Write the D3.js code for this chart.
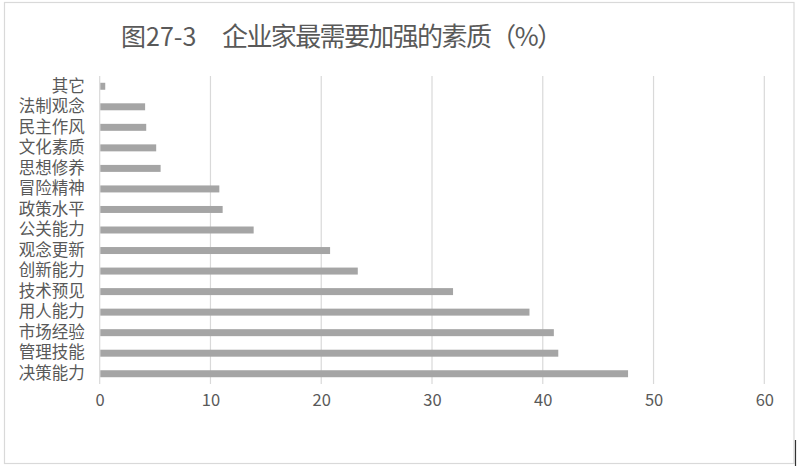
<html>
<head>
  <style>
    body { margin: 0; background: #fff; }
    text { font-family: "Noto Sans CJK SC", "Noto Sans", sans-serif; fill: #595959; }
  </style>
  <script src="https://d3js.org/d3.v7.min.js"></script>
</head>
<body>
  <svg></svg>
  <script type="text/javascript">
    // categories from top to bottom
    var categories = ["其它", "法制观念", "民主作风", "文化素质", "思想修养", "冒险精神", "政策水平", "公关能力",
      "观念更新", "创新能力", "技术预见", "用人能力", "市场经验", "管理技能", "决策能力"]
    var values = [0.5, 4.1, 4.2, 5.1, 5.5, 10.8, 11.1, 13.9, 20.8, 23.3, 31.9, 38.8, 41.0, 41.4, 47.7]
    var xTicks = [0, 10, 20, 30, 40, 50, 60]
    var titleNo = "图27-3"
    var titleText = "企业家最需要加强的素质（%）"

    var w = 800
    var h = 469
    var padLeft = 99.7
    var padRight = 764.3
    var padTop = 76
    var padBottom = 384

    var svg = d3.select("svg")
      .attr("width", w)
      .attr("height", h)

    // chart frame
    svg.append("rect")
      .attr("x", 4.5)
      .attr("y", 2.5)
      .attr("width", 789.5)
      .attr("height", 461)
      .attr("fill", "none")
      .attr("stroke", "#d9d9d9")
      .attr("stroke-width", 1.2)
    svg.append("line")
      .attr("x1", 795.5).attr("x2", 795.5)
      .attr("y1", 440).attr("y2", 466)
      .attr("stroke", "#333")
      .attr("stroke-width", 1.2)

    var xScale = d3.scaleLinear()
      .domain([0, 60])
      .range([padLeft, padRight])

    var yScale = d3.scaleBand()
      .domain(categories)
      .range([padTop, padBottom])
      .paddingInner(0.66)
      .paddingOuter(0.33)

    // gridlines
    svg.append("g").selectAll("line")
      .data(xTicks)
      .enter()
      .append("line")
      .attr("x1", function(d) { return xScale(d) })
      .attr("x2", function(d) { return xScale(d) })
      .attr("y1", padTop)
      .attr("y2", padBottom)
      .attr("stroke", "#d9d9d9")
      .attr("stroke-width", 1.2)

    // bars
    svg.append("g").selectAll("rect")
      .data(values)
      .enter()
      .append("rect")
      .attr("x", xScale(0) + 0.6)
      .attr("y", function(d, i) { return yScale(categories[i]) })
      .attr("width", function(d) { return xScale(d) - xScale(0) - 0.6 })
      .attr("height", yScale.bandwidth())
      .attr("fill", "#a5a5a5")

    // x axis
    var xAxis = d3.axisBottom(xScale)
      .tickValues(xTicks)
      .tickSize(0)
      .tickPadding(10)
    var gx = svg.append("g")
      .attr("transform", "translate(0," + padBottom + ")")
      .call(xAxis)
    gx.select(".domain").remove()
    gx.selectAll("text")
      .style("font-size", "16.5px")
      .style("font-family", "'Noto Sans CJK SC', sans-serif")
      .attr("fill", "#595959")

    // y axis labels
    var yAxis = d3.axisLeft(yScale)
      .tickSize(0)
      .tickPadding(15)
    var gy = svg.append("g")
      .attr("transform", "translate(" + padLeft + ",0)")
      .call(yAxis)
    gy.select(".domain").remove()
    gy.selectAll("text")
      .style("font-size", "16.5px")
      .style("font-family", "'Noto Sans CJK SC', sans-serif")
      .attr("fill", "#595959")

    // title
    svg.append("text")
      .text(titleNo)
      .attr("x", 121)
      .attr("y", 46)
      .style("font-size", "25px")
    svg.append("text")
      .text(titleText)
      .attr("x", 222)
      .attr("y", 46)
      .attr("textLength", 341)
      .style("font-size", "26px")
  </script>
</body>
</html>
